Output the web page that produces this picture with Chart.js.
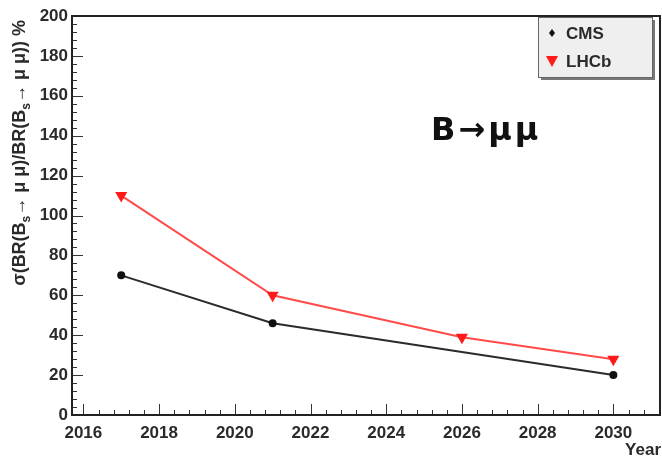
<!DOCTYPE html>
<html>
<head>
<meta charset="utf-8">
<script src="https://cdn.jsdelivr.net/npm/chart.js@4.4.1/dist/chart.umd.min.js"></script>
<style>
  body { margin: 0; background: #fff; }
  canvas { display: block; }
</style>
</head>
<body>
<canvas id="chart" width="662" height="458"></canvas>
<script>
// data
const cmsYears = [2017, 2021, 2030];
const cmsValues = [70, 46, 20];
const lhcbYears = [2017, 2021, 2026, 2030];
const lhcbValues = [110, 60, 39, 28];
const yearTicks = [2016, 2018, 2020, 2022, 2024, 2026, 2028, 2030];
const valueTicks = [0, 20, 40, 60, 80, 100, 120, 140, 160, 180, 200];

const FONT = "'Liberation Sans', Arial, sans-serif";
const TXT = "#2a2a2a";

// frame, inner ticks, titles and legend in ROOT style
const rootStyle = {
  id: "rootStyle",
  beforeDatasetsDraw(chart) {
    const { ctx, chartArea: a } = chart;
    const x = chart.scales.x, y = chart.scales.y;
    const frameRight = chart.width - 2;
    ctx.save();
    ctx.strokeStyle = "#333";
    ctx.lineWidth = 1;
    ctx.beginPath();
    // x ticks
    for (let v = 2016; x.getPixelForValue(v) < frameRight - 1; v += 0.4) {
      const px = Math.round(x.getPixelForValue(v)) + 0.5;
      const major = Math.abs((v - 2016) / 2 - Math.round((v - 2016) / 2)) < 0.01;
      ctx.moveTo(px, a.bottom);
      ctx.lineTo(px, a.bottom - (major ? 11 : 5));
    }
    // y ticks
    for (let v = 0; v <= 200; v += 4) {
      const py = Math.round(y.getPixelForValue(v)) + 0.5;
      const major = v % 20 === 0;
      ctx.moveTo(a.left, py);
      ctx.lineTo(a.left + (major ? 11 : 5), py);
    }
    ctx.stroke();
    ctx.lineWidth = 2;
    ctx.strokeStyle = "#222";
    ctx.strokeRect(a.left, a.top, frameRight - a.left, a.bottom - a.top);
    ctx.restore();
  },
  afterDraw(chart) {
    const { ctx, chartArea: a } = chart;
    ctx.save();
    ctx.fillStyle = TXT;

    // y title with subscripts
    ctx.translate(20, a.top + 4);
    ctx.rotate(-Math.PI / 2);
    const parts = [
      ["σ(BR(B", false], ["s", true], ["→ μ μ)/BR(B", false],
      ["s", true], ["→ μ μ)) %", false]
    ];
    const big = "bold 18px " + FONT, small = "bold 12px " + FONT;
    let total = 0;
    parts.forEach(([t, sub]) => {
      ctx.font = sub ? small : big;
      total += ctx.measureText(t).width;
    });
    let cx = -total;
    ctx.textBaseline = "middle";
    parts.forEach(([t, sub]) => {
      ctx.font = sub ? small : big;
      ctx.fillText(t, cx, sub ? 7 : 0);
      cx += ctx.measureText(t).width;
    });
    ctx.restore();

    ctx.save();
    ctx.fillStyle = TXT;
    ctx.font = "bold 17px " + FONT;
    ctx.textAlign = "right";
    ctx.textBaseline = "middle";
    ctx.fillText("Year", 661, 450);

    ctx.textAlign = "left";
    ctx.font = "bold 32px 'DejaVu Sans', Verdana, sans-serif";
    ctx.letterSpacing = "3px";
    ctx.fillStyle = "#111";
    ctx.fillText("B→μμ", 431, 132);
    ctx.letterSpacing = "0px";

    // legend box
    const lx = 538, ly = 17, lw = 114, lh = 60;
    ctx.fillStyle = "#777";
    ctx.fillRect(lx + 3, ly + 3, lw, lh);
    ctx.fillStyle = "#efefef";
    ctx.fillRect(lx, ly, lw, lh);
    ctx.strokeStyle = "#666";
    ctx.lineWidth = 1;
    ctx.strokeRect(lx + 0.5, ly + 0.5, lw, lh);

    const ds = chart.data.datasets;
    ctx.font = "bold 17px " + FONT;
    ctx.textAlign = "left";
    ctx.textBaseline = "middle";
    // CMS marker (small diamond)
    ctx.fillStyle = "#111";
    ctx.beginPath();
    ctx.moveTo(552, 29); ctx.lineTo(555, 33); ctx.lineTo(552, 37); ctx.lineTo(549, 33);
    ctx.closePath(); ctx.fill();
    ctx.fillStyle = TXT;
    ctx.fillText(ds[0].label, 566, 34);
    // LHCb marker (down triangle)
    ctx.fillStyle = "#ff1a1a";
    ctx.beginPath();
    ctx.moveTo(546, 56); ctx.lineTo(558, 56); ctx.lineTo(552, 67);
    ctx.closePath(); ctx.fill();
    ctx.fillStyle = TXT;
    ctx.fillText(ds[1].label, 566, 62);
    ctx.restore();
  }
};

new Chart(document.getElementById("chart"), {
  type: "line",
  data: {
    datasets: [
      {
        label: "CMS",
        data: cmsYears.map((yr, i) => ({ x: yr, y: cmsValues[i] })),
        borderColor: "#2b2b2b",
        backgroundColor: "#111",
        borderWidth: 2,
        pointStyle: "circle",
        pointRadius: 4,
        pointBorderWidth: 0,
        tension: 0,
      },
      {
        label: "LHCb",
        data: lhcbYears.map((yr, i) => ({ x: yr, y: lhcbValues[i] })),
        borderColor: "#ff4a4a",
        backgroundColor: "#ff1a1a",
        borderWidth: 2,
        pointStyle: "triangle",
        pointRotation: 180,
        pointRadius: 7,
        pointBorderWidth: 0,
        tension: 0,
      },
    ],
  },
  options: {
    responsive: false,
    animation: false,
    devicePixelRatio: 1,
    layout: { padding: { top: 16, right: 2, left: 0, bottom: 0 } },
    plugins: {
      legend: { display: false },
      tooltip: { enabled: false },
    },
    scales: {
      x: {
        type: "linear",
        min: 2015.7,
        max: 2031.1,
        grid: { display: false, drawTicks: false },
        border: { display: false },
        afterFit: (s) => {
          s.height = 43;
          s.paddingLeft = 0;
          s.paddingRight = 0;
        },
        afterBuildTicks: (s) => { s.ticks = yearTicks.map((v) => ({ value: v })); },
        ticks: {
          autoSkip: false,
          maxRotation: 0,
          padding: 8,
          color: TXT,
          font: { family: FONT, size: 17, weight: "bold" },
          callback: (v) => String(v),
        },
      },
      y: {
        min: 0,
        max: 200,
        grid: { display: false, drawTicks: false },
        border: { display: false },
        afterFit: (s) => {
          s.width = 72;
          s.paddingTop = 0;
          s.paddingBottom = 0;
        },
        afterBuildTicks: (s) => { s.ticks = valueTicks.map((v) => ({ value: v })); },
        ticks: {
          padding: 4,
          color: TXT,
          font: { family: FONT, size: 17, weight: "bold" },
        },
      },
    },
  },
  plugins: [rootStyle],
});
</script>
</body>
</html>
